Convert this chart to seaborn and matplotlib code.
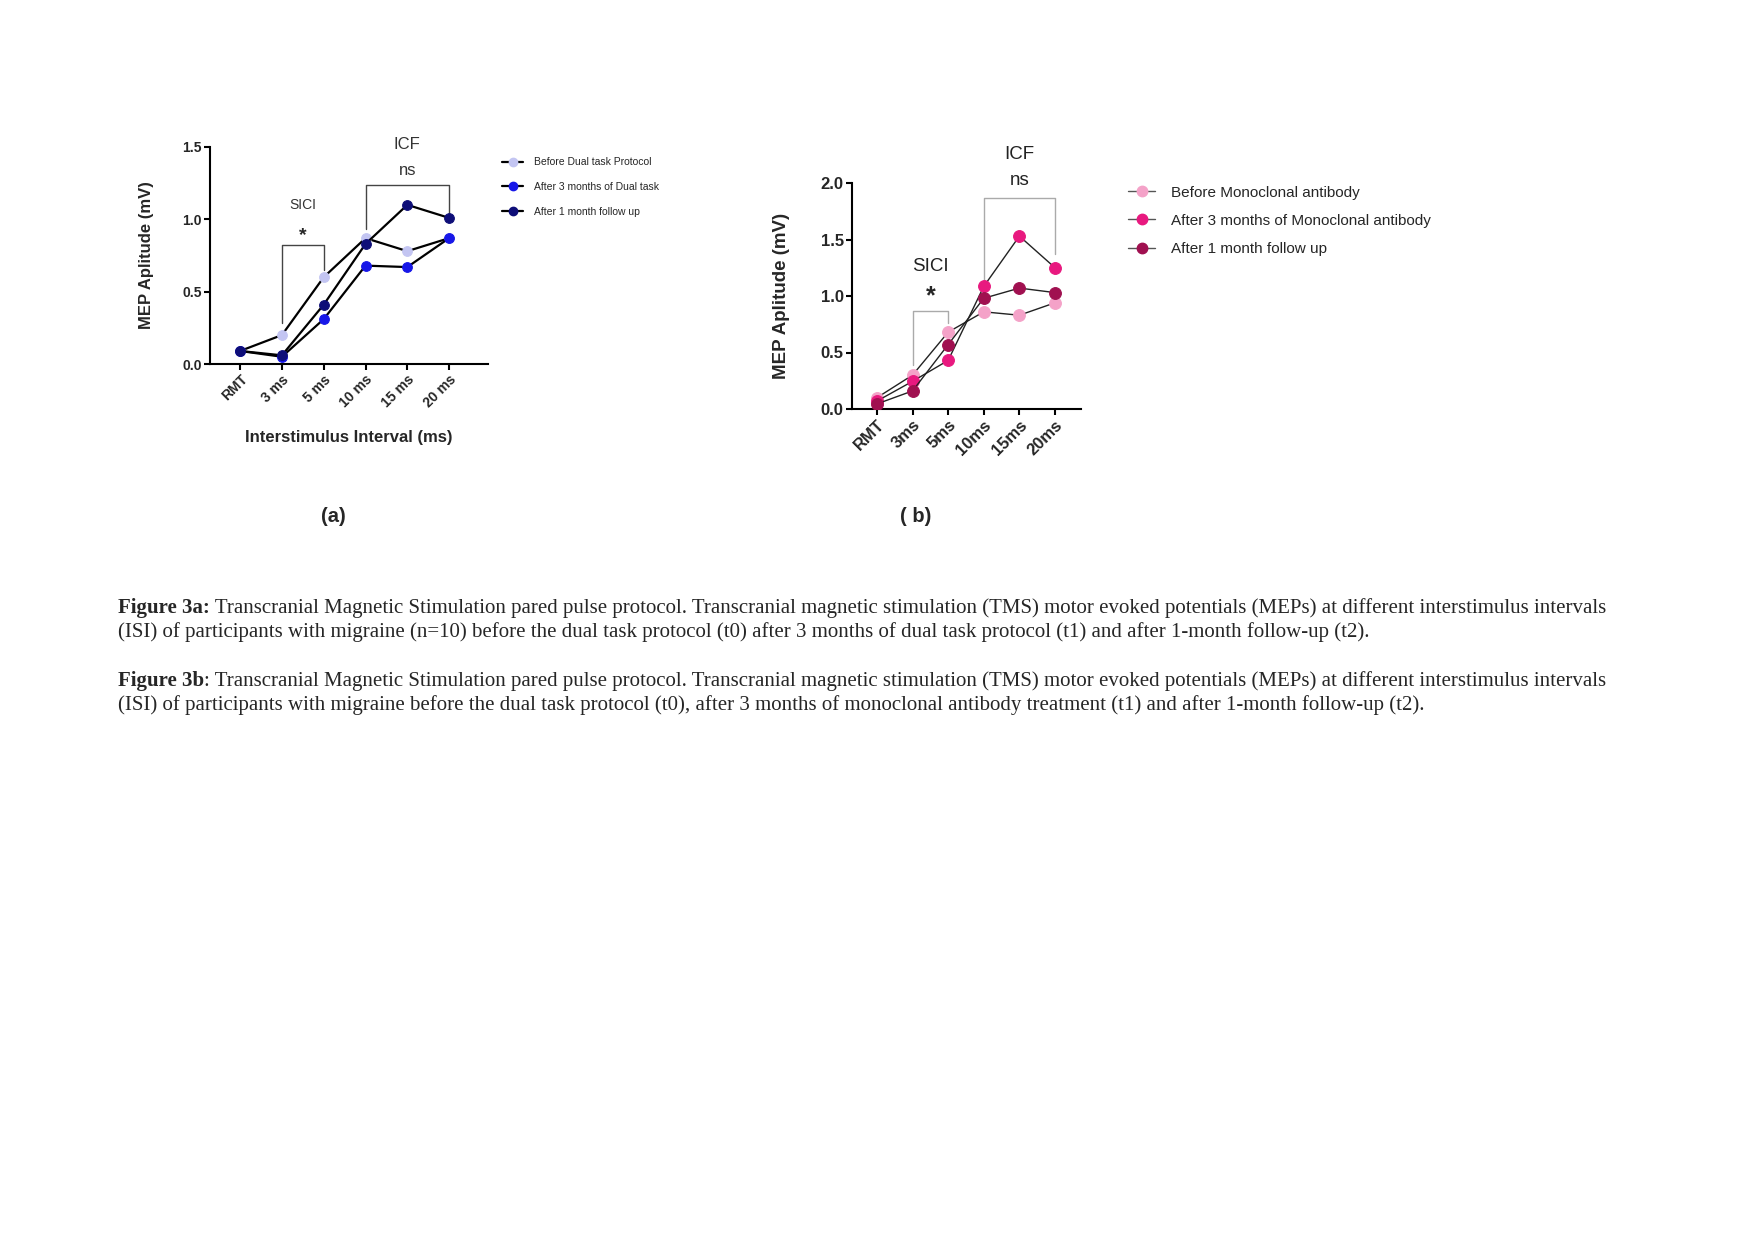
import matplotlib
matplotlib.use("Agg")
import matplotlib.pyplot as plt
import seaborn as sns
import numpy as np
from matplotlib.lines import Line2D

sns.set_style("white")
plt.rcParams['font.family'] = ['Liberation Sans', 'DejaVu Sans']

# data
isi_a = ["RMT", "3 ms", "5 ms", "10 ms", "15 ms", "20 ms"]
isi_b = ["RMT", "3ms", "5ms", "10ms", "15ms", "20ms"]

labels_a = ["Before Dual task Protocol", "After 3 months of Dual task", "After 1 month follow up"]
before_a = [0.09, 0.20, 0.60, 0.87, 0.78, 0.87]
after3_a = [0.09, 0.05, 0.31, 0.68, 0.67, 0.87]
follow_a = [0.09, 0.06, 0.41, 0.83, 1.10, 1.01]
colors_a = ["#C3C5F2", "#1717E8", "#0E0E78"]

labels_b = ["Before Monoclonal antibody", "After 3 months of Monoclonal antibody", "After 1 month follow up"]
before_b = [0.10, 0.30, 0.68, 0.86, 0.83, 0.94]
after3_b = [0.07, 0.245, 0.43, 1.085, 1.53, 1.25]
follow_b = [0.045, 0.16, 0.57, 0.98, 1.07, 1.03]
colors_b = ["#F4A2C8", "#E8197F", "#A01050"]

W, H = 1755, 1241
fig = plt.figure(figsize=(W / 100, H / 100), dpi=100)


def px_axes(left, top, right, bottom):
    return fig.add_axes([left / W, 1 - bottom / H, (right - left) / W, (bottom - top) / H])


def style_axes(ax, ticksize):
    sns.despine(ax=ax)
    for s in ["left", "bottom"]:
        ax.spines[s].set_color("black")
        ax.spines[s].set_linewidth(1.5)
    ax.tick_params(axis="both", direction="out", length=4, width=1.5, color="black",
                   labelsize=ticksize, left=True, bottom=True, pad=2)
    for lab in ax.get_xticklabels() + ax.get_yticklabels():
        lab.set_fontweight("bold")


def bracket(ax, x0, x1, y0, ytop, y1, color, lw):
    ax.plot([x0, x0, x1, x1], [y0, ytop, ytop, y1], color=color, lw=lw, zorder=1)


# ---------- panel (a)
ax1 = px_axes(210, 147, 488, 364)
xpos = np.arange(len(isi_a))
for vals, c in zip([before_a, after3_a, follow_a], colors_a):
    sns.lineplot(x=xpos, y=vals, ax=ax1, color="black", lw=1.6, marker="o", markersize=7,
                 markerfacecolor=c, markeredgecolor=c, zorder=3)
ax1.set_xlim(-0.72, 5.93)
ax1.set_ylim(0, 1.5)
ax1.set_yticks([0.0, 0.5, 1.0, 1.5])
ax1.set_yticklabels(["0.0", "0.5", "1.0", "1.5"])
ax1.set_xticks(xpos)
ax1.set_xticklabels(isi_a, rotation=45, ha="right", rotation_mode="anchor")
style_axes(ax1, 10)
ax1.set_ylabel("MEP Aplitude (mV)", fontsize=12, fontweight="bold", labelpad=20)
ax1.set_xlabel("Interstimulus Interval (ms)", fontsize=12, fontweight="bold", labelpad=14)

bracket(ax1, 1, 2, 0.28, 0.82, 0.65, "#444444", 1.0)
bracket(ax1, 3, 5, 0.93, 1.24, 1.04, "#444444", 1.0)
ax1.text(1.5, 1.10, "SICI", ha="center", va="center", fontsize=10, color="#333333")
ax1.text(1.5, 0.89, "*", ha="center", va="center", fontsize=14, fontweight="bold")
ax1.text(4, 1.34, "ns", ha="center", va="center", fontsize=12, color="#333333")
ax1.text(4, 1.52, "ICF", ha="center", va="center", fontsize=12, color="#333333", clip_on=False)

handles_a = [Line2D([0], [0], color="black", lw=1.6, marker="o", markersize=6,
                    markerfacecolor=c, markeredgecolor=c) for c in colors_a]
fig.legend(handles_a, labels_a, loc="upper left", bbox_to_anchor=(493 / W, 1 - 148 / H),
           frameon=False, fontsize=7.5, handlelength=2.0, handletextpad=1.0, labelspacing=1.4)

fig.text(333 / W, 1 - 516 / H, "(a)", ha="center", va="center", fontsize=14.5, fontweight="bold")

# ---------- panel (b)
ax2 = px_axes(852, 183, 1081, 409)
xpos = np.arange(len(isi_b))
for vals, c in zip([before_b, after3_b, follow_b], colors_b):
    sns.lineplot(x=xpos, y=vals, ax=ax2, color="#222222", lw=1.0, marker="o", markersize=8.5,
                 markerfacecolor=c, markeredgecolor=c, zorder=3)
ax2.set_xlim(-0.70, 5.73)
ax2.set_ylim(0, 2.0)
ax2.set_yticks([0.0, 0.5, 1.0, 1.5, 2.0])
ax2.set_yticklabels(["0.0", "0.5", "1.0", "1.5", "2.0"])
ax2.set_xticks(xpos)
ax2.set_xticklabels(isi_b, rotation=45, ha="right", rotation_mode="anchor")
style_axes(ax2, 12)
ax2.set_ylabel("MEP Aplitude (mV)", fontsize=13.5, fontweight="bold", labelpad=22)

bracket(ax2, 1, 2, 0.39, 0.87, 0.76, "#AAAAAA", 1.0)
bracket(ax2, 3, 5, 1.14, 1.87, 1.37, "#AAAAAA", 1.0)
ax2.text(1.5, 1.26, "SICI", ha="center", va="center", fontsize=13.5, color="#222222")
ax2.text(1.5, 1.00, "*", ha="center", va="center", fontsize=18, fontweight="bold")
ax2.text(4, 2.02, "ns", ha="center", va="center", fontsize=13.5, color="#222222", clip_on=False)
ax2.text(4, 2.25, "ICF", ha="center", va="center", fontsize=13.5, color="#222222", clip_on=False)

handles_b = [Line2D([0], [0], color="#555555", lw=1.0, marker="o", markersize=7.5,
                    markerfacecolor=c, markeredgecolor=c) for c in colors_b]
fig.legend(handles_b, labels_b, loc="upper left", bbox_to_anchor=(1114 / W, 1 - 172 / H),
           frameon=False, fontsize=11, handlelength=1.8, handletextpad=1.0, labelspacing=0.92)

fig.text(916 / W, 1 - 516 / H, "( b)", ha="center", va="center", fontsize=14.5, fontweight="bold")

# ---------- captions
cap_font = ['Liberation Serif', 'DejaVu Serif']
captions = [
    ("Figure 3a:", " Transcranial Magnetic Stimulation pared pulse protocol. Transcranial magnetic stimulation (TMS) motor evoked potentials (MEPs) at different interstimulus intervals",
     "(ISI) of participants with migraine (n=10) before the dual task protocol (t0) after 3 months of dual task protocol (t1) and after 1-month follow-up (t2).", 613),
    ("Figure 3b", ": Transcranial Magnetic Stimulation pared pulse protocol. Transcranial magnetic stimulation (TMS) motor evoked potentials (MEPs) at different interstimulus intervals",
     "(ISI) of participants with migraine before the dual task protocol (t0), after 3 months of monoclonal antibody treatment (t1) and after 1-month follow-up (t2).", 686),
]
fig.canvas.draw()
renderer = fig.canvas.get_renderer()
for bold, rest, line2, ybase in captions:
    t = fig.text(118 / W, 1 - ybase / H, bold, ha="left", va="baseline", fontsize=15,
                 fontweight="bold", family=cap_font)
    bb = t.get_window_extent(renderer)
    fig.text(bb.x1 / W, 1 - ybase / H, rest, ha="left", va="baseline", fontsize=15, family=cap_font)
    fig.text(118 / W, 1 - (ybase + 24) / H, line2, ha="left", va="baseline", fontsize=15, family=cap_font)

fig.savefig("out.png", dpi=100)
